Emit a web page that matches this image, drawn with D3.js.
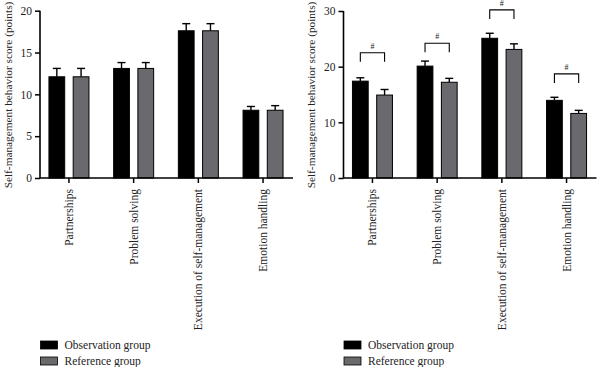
<!DOCTYPE html>
<html>
<head>
<meta charset="utf-8">
<script src="https://cdn.jsdelivr.net/npm/d3@7"></script>
<style>
  body { margin: 0; background: #fff; }
  text { font-family: "Liberation Serif", "Times New Roman", serif; fill: #222; }
</style>
</head>
<body>
<svg width="598" height="367"></svg>
<script>
var categories = ["Partnerships", "Problem solving", "Execution of self-management", "Emotion handling"];
var groups = ["Observation group", "Reference group"];
var colors = ["#000000", "#69696e"];

// left panel (before intervention)
var leftObs = [12.1, 13.1, 17.6, 8.1];
var leftObsErr = [1.0, 0.7, 0.85, 0.45];
var leftRef = [12.1, 13.1, 17.6, 8.1];
var leftRefErr = [1.0, 0.7, 0.85, 0.55];
var leftTicks = [0, 5, 10, 15, 20];

// right panel (after intervention)
var rightObs = [17.4, 20.1, 25.1, 13.95];
var rightObsErr = [0.6, 0.9, 0.9, 0.55];
var rightRef = [14.9, 17.2, 23.1, 11.6];
var rightRefErr = [1.0, 0.7, 1.0, 0.55];
var rightTicks = [0, 10, 20, 30];
var rightBrackets = [22.5, 24.2, 30.2, 18.7];

var svg = d3.select("svg");

function panel(opt) {
  var g = svg.append("g");
  var x = d3.scaleBand().domain(categories).range([opt.x0 - 3.4, opt.x0 + 255.4]).padding(0);
  var sub = d3.scaleBand().domain(groups).range([-20, 20]).paddingInner(0.35);
  var y = d3.scaleLinear().domain([0, opt.max]).range([178, opt.top]);

  var rows = categories.map(function(c, i) {
    return [
      {cat: c, grp: groups[0], v: opt.obs[i], e: opt.obsErr[i], col: colors[0]},
      {cat: c, grp: groups[1], v: opt.ref[i], e: opt.refErr[i], col: colors[1]}
    ];
  });

  var cg = g.selectAll("g.cat").data(rows).enter().append("g")
    .attr("transform", function(d) { return "translate(" + (x(d[0].cat) + x.bandwidth() / 2) + ",0)"; });

  var bar = cg.selectAll("g.bar").data(function(d) { return d; }).enter().append("g");

  // error bars (upper only)
  bar.append("line")
    .attr("x1", function(d) { return sub(d.grp) + sub.bandwidth() / 2; })
    .attr("x2", function(d) { return sub(d.grp) + sub.bandwidth() / 2; })
    .attr("y1", function(d) { return y(d.v); })
    .attr("y2", function(d) { return y(d.v + d.e); })
    .attr("stroke", "#000").attr("stroke-width", 1.4);
  bar.append("line")
    .attr("x1", function(d) { return sub(d.grp) + sub.bandwidth() / 2 - 4; })
    .attr("x2", function(d) { return sub(d.grp) + sub.bandwidth() / 2 + 4; })
    .attr("y1", function(d) { return y(d.v + d.e); })
    .attr("y2", function(d) { return y(d.v + d.e); })
    .attr("stroke", "#000").attr("stroke-width", 1.4);

  bar.append("rect")
    .attr("x", function(d) { return sub(d.grp); })
    .attr("width", sub.bandwidth())
    .attr("y", function(d) { return y(d.v); })
    .attr("height", function(d) { return y(0) - y(d.v); })
    .attr("fill", function(d) { return d.col; })
    .attr("stroke", "#000").attr("stroke-width", 1);

  // significance brackets
  if (opt.brackets) {
    var x1 = sub(groups[0]) + sub.bandwidth() / 2, x2 = sub(groups[1]) + sub.bandwidth() / 2;
    cg.append("path")
      .attr("d", function(d, i) {
        var yt = y(opt.brackets[i]);
        return "M" + x1 + "," + (yt + 9) + "V" + yt + "H" + x2 + "V" + (yt + 9);
      })
      .attr("fill", "none").attr("stroke", "#000").attr("stroke-width", 1.1);
    cg.append("text")
      .attr("x", (x1 + x2) / 2)
      .attr("y", function(d, i) { return y(opt.brackets[i]) - 4; })
      .attr("text-anchor", "middle")
      .attr("font-size", 8)
      .text("#");
  }

  // y axis
  var ya = g.append("g").attr("transform", "translate(" + opt.x0 + ",0)")
    .call(d3.axisLeft(y).tickValues(opt.ticks).tickSize(5).tickPadding(3));
  ya.select(".domain").attr("stroke-width", 1.6).attr("d", "M0," + (y(0) + 0.5) + "V" + y(opt.max));
  ya.selectAll(".tick line").attr("stroke-width", 1.5);
  ya.selectAll(".tick text").attr("font-size", 11.5).attr("fill", "#222")
    .style("font-family", "Liberation Serif");

  // x axis
  var xa = g.append("g").attr("transform", "translate(0,178)")
    .call(d3.axisBottom(x).tickSize(5).tickFormat(""));
  xa.select(".domain").attr("stroke-width", 1.6).attr("d", "M" + opt.x0 + ",0H" + (opt.x0 + 253));
  xa.selectAll(".tick line").attr("stroke-width", 1.5);

  g.selectAll("text.xl").data(categories).enter().append("text")
    .attr("class", "xl")
    .attr("transform", function(d) { return "translate(" + (x(d) + x.bandwidth() / 2) + ",189) rotate(-90)"; })
    .attr("text-anchor", "end")
    .attr("dy", "0.35em")
    .attr("font-size", 11.5)
    .text(function(d) { return d; });

  g.append("text")
    .attr("transform", "translate(" + (opt.x0 - 32) + ",95) rotate(-90)")
    .attr("text-anchor", "middle")
    .attr("dy", "0.35em")
    .attr("font-size", 11.3)
    .text("Self-management behavior score (points)");

  // legend
  var lg = g.selectAll("g.lg").data(groups).enter().append("g")
    .attr("transform", function(d, i) { return "translate(" + (opt.x0 + 0.5) + "," + (341 + i * 16) + ")"; });
  lg.append("rect").attr("width", 17).attr("height", 8)
    .attr("fill", function(d, i) { return colors[i]; })
    .attr("stroke", "#000").attr("stroke-width", 0.8);
  lg.append("text").attr("x", 24).attr("y", 4).attr("dy", "0.35em")
    .attr("font-size", 11.5).text(function(d) { return d; });
}

panel({x0: 40, max: 20, top: 10.7, ticks: leftTicks,
  obs: leftObs, obsErr: leftObsErr, ref: leftRef, refErr: leftRefErr});
panel({x0: 343.5, max: 30, top: 11, ticks: rightTicks,
  obs: rightObs, obsErr: rightObsErr, ref: rightRef, refErr: rightRefErr, brackets: rightBrackets});
</script>
</body>
</html>
